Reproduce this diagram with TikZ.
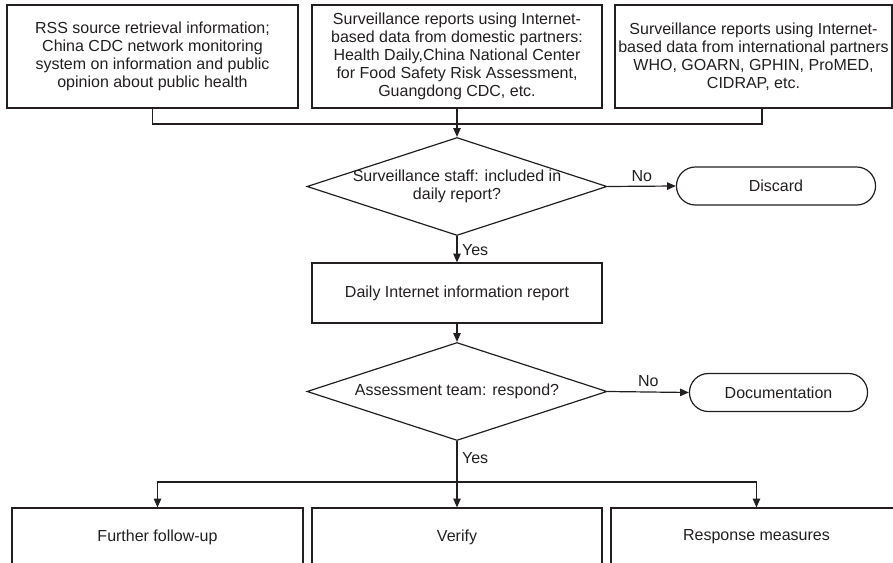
\documentclass[tikz,border=0pt]{standalone}
\usepackage{fontspec}
\setmainfont{Liberation Sans}
\usepackage{tikz}
\usetikzlibrary{shapes.geometric,shapes.misc,arrows.meta}
\definecolor{ink}{HTML}{231F20}

\begin{document}
\begin{tikzpicture}[x=0.75pt,y=-0.75pt,
      every node/.style={font=\fontsize{12}{13.5}\selectfont,text=ink,align=center},
      srcbox/.style={draw=ink,line width=0.9pt,minimum height=77.25pt,inner sep=0pt},
      decision/.style={diamond,draw=ink,line width=0.9pt,minimum width=225pt,minimum height=73.5pt,aspect=3.1,inner sep=-2.5pt},
      endbox/.style={rounded rectangle,draw=ink,line width=0.9pt,minimum height=28.5pt},
      stepbox/.style={draw=ink,line width=0.9pt,minimum width=217.5pt},
      link/.style={draw=ink,line width=0.9pt},
      arr/.style={link,-{Triangle[length=6.5pt,width=5.5pt]}}]
      \useasboundingbox (0,0) rectangle (893,563);
      \clip (0,0) rectangle (893,563);
      \node[srcbox,minimum width=218.25pt] (rss) at (152.5,56.5) {RSS source retrieval information;\\ China CDC network monitoring\\ system on information and public\\ opinion about public health};
      \node[srcbox,minimum width=217.5pt] (dom) at (457,56.5) {Surveillance reports using Internet-\\ based data from domestic partners:\\ Health Daily,China National Center\\ for Food Safety Risk Assessment,\\ Guangdong CDC, etc.};
      \node[srcbox,minimum width=207.75pt] (intl) at (753.5,56.5) {Surveillance reports using Internet-\\ based data from international partners\\ WHO, GOARN, GPHIN, ProMED,\\ CIDRAP, etc.};
      \coordinate (intlfoot) at (762,108);
      \coordinate (join) at (457,124);
      \node[decision] (dec1) at (457,186.5) {Surveillance staff: included in\\ daily report?};
      \node[endbox,minimum width=156pt] (discard) at (776,186) {Discard};
      \node[stepbox,minimum height=45pt] (report) at (457,293) {Daily Internet information report};
      \node[decision] (dec2) at (457,391.5) {Assessment team: respond?};
      \node[endbox,minimum width=140.25pt] (docu) at (778.5,392.5) {Documentation};
      \coordinate (fork) at (457,482);
      \node[stepbox,minimum width=218.25pt,minimum height=43.5pt] (follow) at (157.5,537) {Further follow-up};
      \node[stepbox,minimum height=43.5pt] (verify) at (457,537) {Verify};
      \node[stepbox,minimum width=218.25pt,minimum height=43.5pt] (measures) at (756.5,537) {Response measures};
      \draw[link] (rss.south) |- (join);
      \draw[link] (intlfoot) |- (join);
      \draw[arr] (dom.south) -- (dec1.north);
      \draw[arr] (dec1.east) -- node[above]{No} (discard.west);
      \draw[arr] (dec1.south) -- node[right,pos=0.55]{Yes} (report.north);
      \draw[arr] (report.south) -- (dec2.north);
      \draw[arr] (dec2.east) -- node[above]{No} (docu.west);
      \draw[arr] (dec2.south) -- node[right,pos=0.25]{Yes} (verify.north);
      \draw[arr] (fork) -| (follow.north);
      \draw[arr] (fork) -| (measures.north);
\end{tikzpicture}
\end{document}
